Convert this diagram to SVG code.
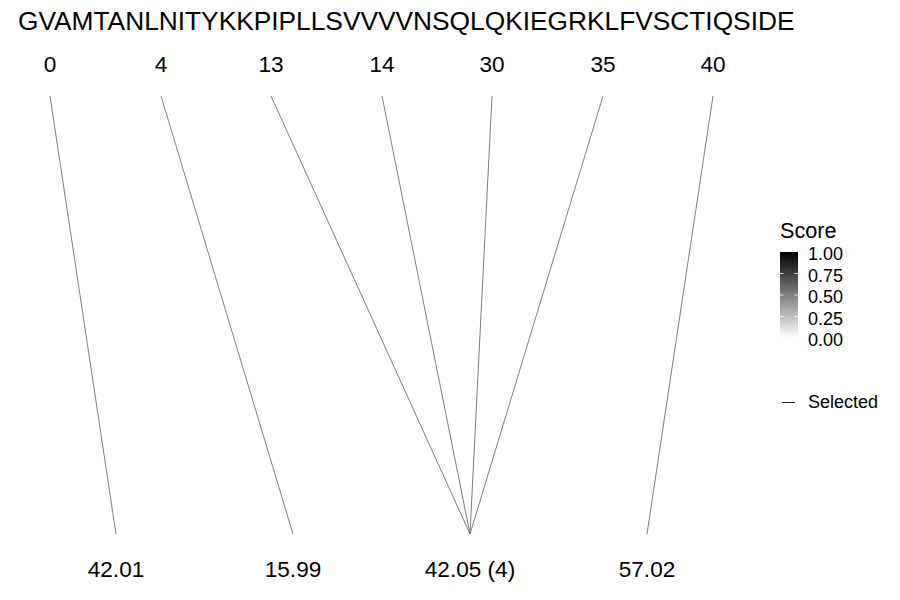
<svg xmlns="http://www.w3.org/2000/svg" width="900" height="600" viewBox="0 0 900 600">
<defs>
<style>
text{font-family:"Liberation Sans",Arial,sans-serif;fill:#000}
.seq{font-size:26.3px}
.lab{font-size:22.6px;text-anchor:middle}
.tick{font-size:18px}
.conn line{stroke:#6e6e6e;stroke-width:0.9}
</style>
<linearGradient id="g" x1="0" y1="0" x2="0" y2="1">
<stop offset="0" stop-color="#000"/>
<stop offset="1" stop-color="#fff"/>
</linearGradient>
</defs>
<rect width="900" height="600" fill="#fff"/>
<text class="seq" x="18" y="30">GVAMTANLNITYKKPIPLLSVVVVNSQLQKIEGRKLFVSCTIQSIDE</text>
<g id="top-0"><text class="lab" x="50" y="72">0</text></g>
<g id="top-4"><text class="lab" x="161" y="72">4</text></g>
<g id="top-13"><text class="lab" x="271" y="72">13</text></g>
<g id="top-14"><text class="lab" x="382" y="72">14</text></g>
<g id="top-30"><text class="lab" x="492" y="72">30</text></g>
<g id="top-35"><text class="lab" x="603" y="72">35</text></g>
<g id="top-40"><text class="lab" x="713" y="72">40</text></g>
<g id="bot-1"><text class="lab" x="116" y="577">42.01</text></g>
<g id="bot-2"><text class="lab" x="293" y="577">15.99</text></g>
<g id="bot-3"><text class="lab" x="470" y="577">42.05 (4)</text></g>
<g id="bot-4"><text class="lab" x="647" y="577">57.02</text></g>
<g class="conn" id="connectors">
<line x1="50" y1="96" x2="116" y2="534"/>
<line x1="161" y1="96" x2="293" y2="534"/>
<line x1="271" y1="96" x2="470" y2="534"/>
<line x1="382" y1="96" x2="470" y2="534"/>
<line x1="492" y1="96" x2="470" y2="534"/>
<line x1="603" y1="96" x2="470" y2="534"/>
<line x1="713" y1="96" x2="647" y2="534"/>
</g>
<g id="legend">
<text x="780" y="238" style="font-size:21.6px">Score</text>
<rect x="780" y="252" width="18" height="86" fill="url(#g)"/>
<g stroke="#fff" stroke-width="0.8">
<line x1="780" y1="273.5" x2="783.5" y2="273.5"/><line x1="794.5" y1="273.5" x2="798" y2="273.5"/>
<line x1="780" y1="295" x2="783.5" y2="295"/><line x1="794.5" y1="295" x2="798" y2="295"/>
<line x1="780" y1="316.5" x2="783.5" y2="316.5"/><line x1="794.5" y1="316.5" x2="798" y2="316.5"/>
</g>
<text class="tick" x="808" y="260">1.00</text>
<text class="tick" x="808" y="281.5">0.75</text>
<text class="tick" x="808" y="303">0.50</text>
<text class="tick" x="808" y="324.5">0.25</text>
<text class="tick" x="808" y="346">0.00</text>
<line x1="782" y1="402.5" x2="795" y2="402.5" stroke="#222" stroke-width="1"/>
<text class="tick" x="808" y="408">Selected</text>
</g>
</svg>
